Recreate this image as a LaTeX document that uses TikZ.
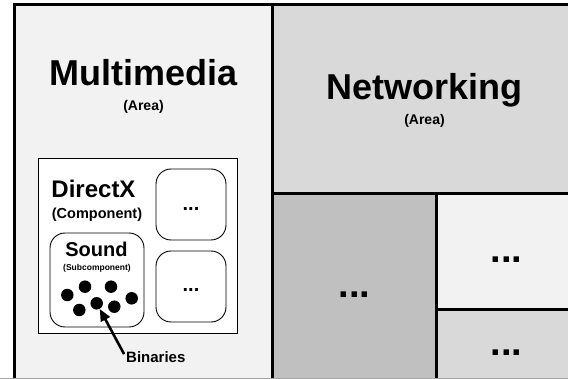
\documentclass[tikz,border=0pt]{standalone}
\usepackage{fontspec}
\setmainfont{Liberation Sans}
\usetikzlibrary{arrows.meta}
\definecolor{lightA}{HTML}{F2F2F2}
\definecolor{midA}{HTML}{D9D9D9}
\definecolor{darkA}{HTML}{C0C0C0}
\newcommand{\fsz}[1]{\fontsize{#1}{#1}\selectfont\bfseries}
\begin{document}
\begin{tikzpicture}[x=1pt,y=-1pt,
  panel/.style={draw=black,line width=3pt},
  lbl/.style={anchor=base,inner sep=0pt,text=black},
  rbox/.style={draw=black,line width=0.9pt,rounded corners=15pt,fill=white,inner sep=0pt},
  bindot/.style={circle,fill=black,minimum size=12.5pt,inner sep=0pt},
  arr/.style={line width=2.6pt,-{Triangle[length=12pt,width=10pt]}}]
\useasboundingbox (0,0) rectangle (568,379);
\begin{scope}
\clip (0,0) rectangle (568,379);
% panels
\filldraw[panel,fill=lightA] (14.5,5) rectangle (272.5,400);
\filldraw[panel,fill=midA] (272.5,5) rectangle (580,193.5);
\filldraw[panel,fill=darkA] (272.5,193.5) rectangle (436.5,400);
\filldraw[panel,fill=lightA] (436.5,193.5) rectangle (580,310);
\filldraw[panel,fill=midA] (436.5,310) rectangle (580,400);
\draw[line width=1pt,color=gray!70] (0,378.5) -- (568,378.5);
\end{scope}
% area labels
\node[lbl] (mm) at (143.5,86) {\fsz{36}Multimedia};
\node[lbl] (mmarea) at (143.5,111) {\fsz{14}(Area)};
\node[lbl] (nw) at (424.5,100) {\fsz{36}Networking};
\node[lbl] (nwarea) at (424.5,125) {\fsz{14}(Area)};
% networking sub-areas
\node[lbl] (d1) at (354.5,297.7) {\fsz{38}...};
\node[lbl] (d2) at (506.5,262.7) {\fsz{38}...};
\node[lbl] (d3) at (506.5,355.7) {\fsz{38}...};
% DirectX component
\filldraw[draw=black,line width=0.9pt,fill=white] (38,158) rectangle (237,333);
\node[lbl] (dx) at (93.5,198) {\fsz{24}DirectX};
\node[lbl] (dxc) at (97,219) {\fsz{14.5}(Component)};
\node[rbox,minimum width=70pt,minimum height=71pt] (b1) at (191,204.5) {};
\node[lbl] (b1t) at (191,211) {\fsz{20}...};
\node[rbox,minimum width=70pt,minimum height=71pt] (b2) at (191,286.5) {};
\node[lbl] (b2t) at (191,291.7) {\fsz{20}...};
\node[rbox,minimum width=94pt,minimum height=94pt] (snd) at (97,280) {};
\node[lbl] (sndt) at (96.5,257) {\fsz{20}Sound};
\node[lbl] (snds) at (97,271) {\fsz{8.5}(Subcomponent)};
% binaries
\node[bindot] (p1) at (67.3,295) {};
\node[bindot] (p2) at (85,286.7) {};
\node[bindot] (p3) at (111,286.7) {};
\node[bindot] (p4) at (131.7,298.3) {};
\node[bindot] (p5) at (79.3,310) {};
\node[bindot] (p6) at (96.7,303.3) {};
\node[bindot] (p7) at (114.3,306.7) {};
\node[anchor=base west,inner sep=0pt] (bin) at (126,363) {\fsz{15}Binaries};
\draw[arr,shorten <=4pt] (bin.west) -- (p6);
\end{tikzpicture}
\end{document}
